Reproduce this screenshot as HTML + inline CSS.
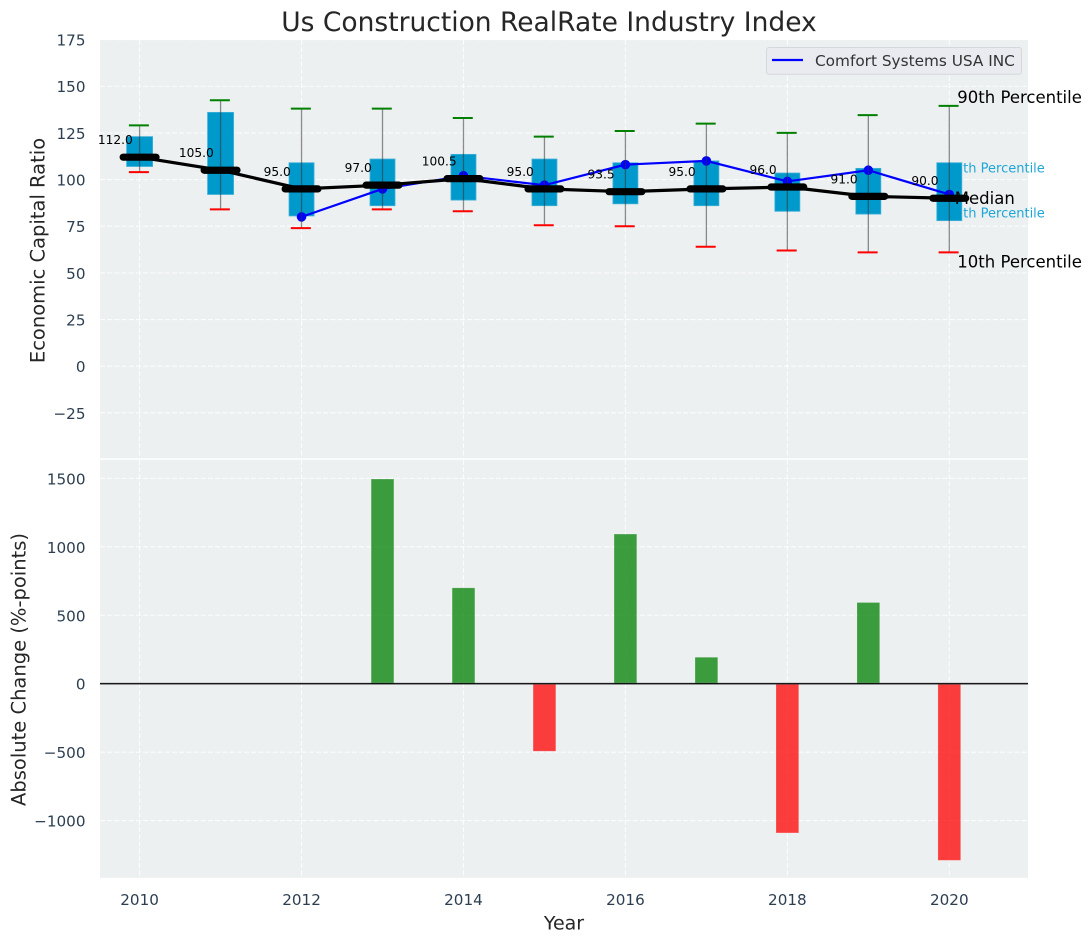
<!DOCTYPE html>
<html lang="en">
<head>
<meta charset="utf-8">
<title>Us Construction RealRate Industry Index</title>
<style>
html,body{margin:0;padding:0;background:#fff;width:1092px;height:942px;overflow:hidden}
svg{display:block;font-family:"DejaVu Sans","Liberation Sans",sans-serif}
</style>
</head>
<body>
<svg id="chart" xmlns="http://www.w3.org/2000/svg" width="1092" height="942" viewBox="0 0 1092 942">
  <rect width="1092" height="942" fill="#ffffff"/>
  <rect x="100" y="40" width="928" height="418.3" fill="#ecf0f1"/>
  <rect x="100" y="459.8" width="928" height="418" fill="#ecf0f1"/>
  <g id="top-grid"></g>
  <g id="bottom-grid"></g>
  <g id="annotations"></g>
  <g id="boxes"></g>
  <g id="median-note"></g>
  <g id="company-series"></g>
  <g id="whiskers"></g>
  <g id="median-series"></g>
  <g id="median-labels"></g>
  <g id="change-bars"></g>
  <g id="tick-labels"></g>
  <text x="549" y="31" text-anchor="middle" font-size="26.5" fill="#262626">Us Construction RealRate Industry Index</text>
  <text transform="translate(44.5,250.5) rotate(-90)" text-anchor="middle" font-size="19.5" fill="#262626">Economic Capital Ratio</text>
  <text transform="translate(25.5,669.5) rotate(-90)" text-anchor="middle" font-size="19.5" fill="#262626">Absolute Change (%-points)</text>
  <text x="564" y="929.5" text-anchor="middle" font-size="19" fill="#262626">Year</text>
  <g>
    <rect x="766.5" y="47.5" width="255" height="26.8" rx="2.5" fill="#e9ebf0" stroke="#d5d7dc" stroke-width="1"/>
    <line x1="772" y1="60" x2="803" y2="60" stroke="#0000ff" stroke-width="2.2"/>
    <text x="815" y="66" font-size="15.3" fill="#333333">Comfort Systems USA INC</text>
  </g>
</svg>
<script>
const years = [2010, 2011, 2012, 2013, 2014, 2015, 2016, 2017, 2018, 2019, 2020];
const p90 = [129, 142.5, 138, 138, 133, 123, 126, 130, 125, 134.5, 139.5];
const p75 = [123, 136, 109, 111, 113.5, 111, 109, 110, 103.5, 106, 109];
const medians = [112, 105, 95, 97, 100.5, 95, 93.5, 95, 96, 91, 90];
const p25 = [107, 92, 80.5, 86, 89, 86, 87, 86, 83, 81.5, 78];
const p10 = [104, 84, 74, 84, 83, 75.5, 75, 64, 62, 61, 61];
const companyYears = [2012, 2013, 2014, 2015, 2016, 2017, 2018, 2019, 2020];
const companyValues = [80, 95, 102, 97, 108, 110, 99, 105, 92];
const changeYears = [2013, 2014, 2015, 2016, 2017, 2018, 2019, 2020];
const changeValues = [1495, 700, -493, 1093, 193, -1090, 593, -1290];
const xTicks = [2010, 2012, 2014, 2016, 2018, 2020];
const topYTicks = [-25, 0, 25, 50, 75, 100, 125, 150, 175];
const bottomYTicks = [-1000, -500, 0, 500, 1000, 1500];

const SVG_NS = 'http://www.w3.org/2000/svg';
function xScale(v) { return 139.6 + (v - 2010) * 80.97; }
function yTop(v) { return 366.2 - v * 1.8664; }
function yBottom(v) { return 683.7 - v * 0.1369; }
function make(parentId, tag, props) {
  const node = document.createElementNS(SVG_NS, tag);
  for (const key in props) node.setAttribute(key, props[key]);
  document.getElementById(parentId).appendChild(node);
  return node;
}
function label(v) { return String(v).replace('-', '\u2212'); }

/* grid */
topYTicks.forEach(function (t) {
  const el = make('top-grid', 'line', { x1: 100, x2: 1028, y1: yTop(t), y2: yTop(t), stroke: '#ffffff', 'stroke-width': 1.1, 'stroke-dasharray': '5 2.2', opacity: 0.85 });
  
  
});
bottomYTicks.forEach(function (t) {
  const el = make('bottom-grid', 'line', { x1: 100, x2: 1028, y1: yBottom(t), y2: yBottom(t), stroke: '#ffffff', 'stroke-width': 1.1, 'stroke-dasharray': '5 2.2', opacity: 0.85 });
  
  
});
xTicks.forEach(function (t) {
  const a = make('top-grid', 'line', { x1: xScale(t), x2: xScale(t), y1: 40, y2: 458.3, stroke: '#ffffff', 'stroke-width': 1.1, 'stroke-dasharray': '5 2.2', opacity: 0.85 });
  
  
  const b = make('bottom-grid', 'line', { x1: xScale(t), x2: xScale(t), y1: 459.8, y2: 877.8, stroke: '#ffffff', 'stroke-width': 1.1, 'stroke-dasharray': '5 2.2', opacity: 0.85 });
  
  
});

/* percentile annotations on the last year */
const last = years.length - 1;
const lastX = xScale(years[last]);
const note90 = make('annotations', 'text', { x: lastX + 8, y: yTop(p90[last]) - 3, 'font-size': 16.5, fill: '#000000' });
note90.textContent = '90th Percentile';


const note75 = make('annotations', 'text', { x: lastX + 95.5, y: yTop(p75[last]) + 9.5, 'font-size': 13, fill: '#1fa6d6', 'text-anchor': 'end' });
note75.textContent = '75th Percentile';


const note25 = make('annotations', 'text', { x: lastX + 95.5, y: yTop(p25[last]) - 3, 'font-size': 13, fill: '#1fa6d6', 'text-anchor': 'end' });
note25.textContent = '25th Percentile';


const note10 = make('annotations', 'text', { x: lastX + 8, y: yTop(p10[last]) + 15, 'font-size': 16.5, fill: '#000000' });
note10.textContent = '10th Percentile';


const noteMed = make('median-note', 'text', { x: lastX + 5.5, y: yTop(medians[last]) + 6, 'font-size': 16.5, fill: '#000000' });
noteMed.textContent = 'Median';



/* boxes */
years.forEach(function (yr, i) {
  const boxWidth = i < 2 ? 26 : 25;
  const el = make('boxes', 'rect', { x: xScale(yr) - boxWidth / 2, y: yTop(p75[i]), width: boxWidth, height: yTop(p25[i]) - yTop(p75[i]), fill: '#0099cc', stroke: '#3fb0d8', 'stroke-width': 0.8 });
  
  
});

/* company line */
const companyPath = companyYears.map(function (yr, i) { return xScale(yr) + ',' + yTop(companyValues[i]); }).join(' ');
const companyLine = make('company-series', 'polyline', { points: companyPath, fill: 'none', stroke: '#0000ff', 'stroke-width': 2.2 });


companyYears.forEach(function (yr, i) {
  const el = make('company-series', 'circle', { cx: xScale(yr), cy: yTop(companyValues[i]), r: 4.8, fill: '#0000ff' });
  
  
});

/* whiskers and caps */
years.forEach(function (yr, i) {
  const cx = xScale(yr);
  const stem = make('whiskers', 'line', { x1: cx, x2: cx, y1: yTop(p90[i]), y2: yTop(p10[i]), stroke: '#333333', 'stroke-opacity': 0.55, 'stroke-width': 1.3 });
  
  
  const hi = make('whiskers', 'line', { x1: cx - 10.7, x2: cx + 9.3, y1: yTop(p90[i]), y2: yTop(p90[i]), stroke: '#008000', 'stroke-width': 2 });
  
  
  const lo = make('whiskers', 'line', { x1: cx - 10.7, x2: cx + 9.3, y1: yTop(p10[i]), y2: yTop(p10[i]), stroke: '#ff0000', 'stroke-width': 2 });
  
  
});

/* median line and median bars */
const medianPath = years.map(function (yr, i) { return xScale(yr) + ',' + yTop(medians[i]); }).join(' ');
const medianLine = make('median-series', 'polyline', { points: medianPath, fill: 'none', stroke: '#000000', 'stroke-width': 3.2 });


years.forEach(function (yr, i) {
  const el = make('median-series', 'line', { x1: xScale(yr) - 16.4, x2: xScale(yr) + 16.4, y1: yTop(medians[i]), y2: yTop(medians[i]), stroke: '#000000', 'stroke-width': 7.2, 'stroke-linecap': 'round' });
  
  
});

/* median labels */
years.forEach(function (yr, i) {
  const el = make('median-labels', 'text', { x: xScale(yr) - 24.3, y: yTop(medians[i]) - 13, 'font-size': 12.2, fill: '#000000', 'text-anchor': 'middle' });
  el.textContent = medians[i].toFixed(1);
  
  
});

/* bottom bars */
changeYears.forEach(function (yr, i) {
  const v = changeValues[i];
  const barWidth = 22.7;
  const top = Math.min(yBottom(v), yBottom(0));
  const height = Math.abs(yBottom(v) - yBottom(0));
  const el = make('change-bars', 'rect', { x: xScale(yr) - barWidth / 2, y: top, width: barWidth, height: height, fill: v >= 0 ? '#008000' : '#ff0000', 'fill-opacity': 0.75, stroke: '#ffffff', 'stroke-opacity': 0.22, 'stroke-width': 0.8 });
  
  
});
const zeroHalo = make('change-bars', 'line', { x1: 100, x2: 1028, y1: yBottom(0), y2: yBottom(0), stroke: '#777777', 'stroke-opacity': 0.45, 'stroke-width': 2.4 });


const zeroLine = make('change-bars', 'line', { x1: 100, x2: 1028, y1: yBottom(0), y2: yBottom(0), stroke: '#000000', 'stroke-width': 1.2 });



/* tick labels */
topYTicks.forEach(function (t) {
  const el = make('tick-labels', 'text', { x: 85.5, y: yTop(t) + 6, 'font-size': 15.2, fill: '#2c3e50', 'text-anchor': 'end' });
  el.textContent = label(t);
  
  
});
bottomYTicks.forEach(function (t) {
  const el = make('tick-labels', 'text', { x: 85.5, y: yBottom(t) + 6, 'font-size': 15.2, fill: '#2c3e50', 'text-anchor': 'end' });
  el.textContent = label(t);
  
  
});
xTicks.forEach(function (t) {
  const el = make('tick-labels', 'text', { x: xScale(t), y: 904.8, 'font-size': 15.2, fill: '#2c3e50', 'text-anchor': 'middle' });
  el.textContent = String(t);
  
  
});
</script>
</body>
</html>
